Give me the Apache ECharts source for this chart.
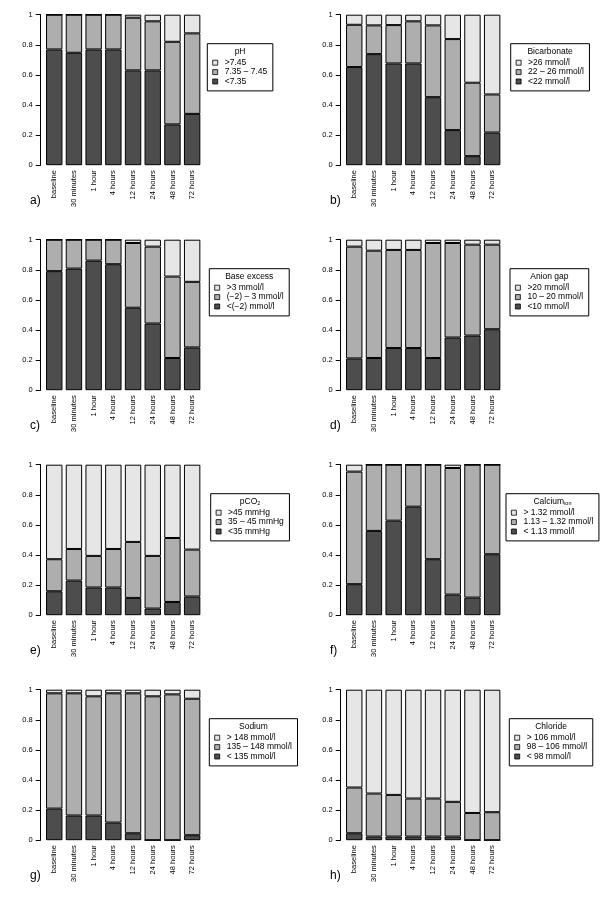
<!DOCTYPE html>
<html>
<head>
<meta charset="utf-8">
<script src="https://cdn.jsdelivr.net/npm/echarts@6/dist/echarts.min.js"></script>
<style>
html,body{margin:0;padding:0;background:#fff;}
#chart{width:600px;height:900px;}
</style>
</head>
<body>
<div id="chart"></div>
<script>
// ---- data ----
const categories = ['baseline','30 minutes','1 hour','4 hours','12 hours','24 hours','48 hours','72 hours'];
const yTicks = [0, 0.2, 0.4, 0.6, 0.8, 1];
const panelLabels = ['a)','b)','c)','d)','e)','f)','g)','h)'];

const pHLow  = [0.769,0.747,0.769,0.769,0.630,0.630,0.271,0.341];
const pHMid  = [0.231,0.253,0.231,0.231,0.350,0.326,0.549,0.535];
const pHHigh = [0,0,0,0,0.020,0.044,0.180,0.124];

const bicLow  = [0.652,0.738,0.676,0.676,0.452,0.233,0.060,0.217];
const bicMid  = [0.281,0.191,0.255,0.280,0.477,0.605,0.488,0.253];
const bicHigh = [0.067,0.071,0.069,0.044,0.071,0.162,0.452,0.530];

const beLow  = [0.791,0.808,0.861,0.837,0.548,0.443,0.214,0.284];
const beMid  = [0.209,0.192,0.139,0.163,0.430,0.511,0.541,0.436];
const beHigh = [0,0,0,0,0.022,0.046,0.245,0.280];

const agLow  = [0.211,0.214,0.280,0.280,0.214,0.350,0.363,0.405];
const agMid  = [0.743,0.713,0.652,0.652,0.764,0.628,0.604,0.562];
const agHigh = [0.046,0.073,0.068,0.068,0.022,0.022,0.033,0.033];

const co2Low  = [0.159,0.230,0.184,0.184,0.115,0.044,0.088,0.124];
const co2Mid  = [0.213,0.210,0.210,0.256,0.372,0.350,0.425,0.312];
const co2High = [0.628,0.560,0.606,0.560,0.513,0.606,0.487,0.564];

const caLow  = [0.206,0.560,0.628,0.721,0.372,0.137,0.117,0.405];
const caMid  = [0.748,0.440,0.372,0.279,0.628,0.841,0.883,0.595];
const caHigh = [0.046,0,0,0,0,0.022,0,0];

const naLow  = [0.210,0.164,0.164,0.117,0.046,0,0,0.033];
const naMid  = [0.766,0.812,0.792,0.859,0.930,0.956,0.969,0.907];
const naHigh = [0.024,0.024,0.044,0.024,0.024,0.044,0.031,0.060];

const clLow  = [0.046,0.024,0.024,0.024,0.024,0.024,0,0];
const clMid  = [0.304,0.286,0.277,0.253,0.253,0.231,0.181,0.186];
const clHigh = [0.650,0.690,0.699,0.723,0.723,0.745,0.819,0.814];

const legendTitles = ['{n|pH}','{n|Bicarbonate}','{n|Base excess}','{n|Anion gap}','{n|pCO}{s|2}','{n|Calcium}{s|ion}','{n|Sodium}','{n|Chloride}'];
const legendNames = [
  ['>7.45','7.35 – 7.45','<7.35'],
  ['>26 mmol/l','22 – 26 mmol/l','<22 mmol/l'],
  ['>3 mmol/l','(−2) – 3 mmol/l','<(−2) mmol/l'],
  ['>20 mmol/l','10 – 20 mmol/l','<10 mmol/l'],
  ['>45 mmHg','35 – 45 mmHg','<35 mmHg'],
  ['> 1.32 mmol/l','1.13 – 1.32 mmol/l','< 1.13 mmol/l'],
  ['> 148 mmol/l','135 – 148 mmol/l','< 135 mmol/l'],
  ['> 106 mmol/l','98 – 106 mmol/l','< 98 mmol/l']
];
const panelData = [
  [pHLow, pHMid, pHHigh],
  [bicLow, bicMid, bicHigh],
  [beLow, beMid, beHigh],
  [agLow, agMid, agHigh],
  [co2Low, co2Mid, co2High],
  [caLow, caMid, caHigh],
  [naLow, naMid, naHigh],
  [clLow, clMid, clHigh]
];

// ---- styles / layout ----
const FONT = '"Liberation Sans", Arial, Helvetica, sans-serif';
const colors = { low: '#4D4D4D', mid: '#AEAEAE', high: '#E6E6E6' };
const LEG_FS = 8.5;
const boxLefts = [207.3, 210.7, 209.3, 210, 210.7, 206, 209.3, 209.3];

const measureCtx = document.createElement('canvas').getContext('2d');
function textW(s, fs) { measureCtx.font = fs + 'px ' + FONT; return measureCtx.measureText(s).width; }

const grids = [], xAxes = [], yAxes = [], series = [], legends = [], graphics = [];

panelData.forEach((pd, i) => {
  const col = i % 2, row = Math.floor(i / 2);
  const ox = col * 300, oy = row * 225 + 14.7;
  grids.push({ left: ox + 44.4, top: oy, width: 157.6, height: 150.5, containLabel: false });
  xAxes.push({
    type: 'category', gridIndex: i, data: categories,
    axisLine: { show: false }, axisTick: { show: false },
    axisLabel: { rotate: 90, fontSize: 7.5, color: '#000', fontFamily: FONT, margin: 5, interval: 0 }
  });
  yAxes.push({
    type: 'value', gridIndex: i, min: yTicks[0], max: yTicks[yTicks.length - 1], interval: 0.2,
    offset: 3.7,
    axisLine: { show: true, lineStyle: { color: '#000', width: 1 } },
    axisTick: { show: true, length: 5, lineStyle: { color: '#000', width: 1 } },
    splitLine: { show: false },
    axisLabel: { fontSize: 7.5, color: '#000', fontFamily: FONT, margin: 8 }
  });
  const names = legendNames[i];
  const keys = ['low', 'mid', 'high'];
  const nameFor = [names[2], names[1], names[0]];
  pd.forEach((vals, k) => {
    series.push({
      type: 'bar', name: nameFor[k], xAxisIndex: i, yAxisIndex: i, stack: 'p' + i,
      data: vals, barCategoryGap: '16.7%',
      itemStyle: { color: colors[keys[k]], borderColor: '#000', borderWidth: 1 },
      emphasis: { disabled: true }, animation: false
    });
  });
  // legend box
  const maxW = Math.max(...names.map(n => textW(n, LEG_FS)));
  const boxL = ox + boxLefts[i], boxT = oy + 29, boxW = 18.6 + maxW + 4.4, boxH = 47.2;
  graphics.push({
    type: 'rect', shape: { x: boxL, y: boxT, width: boxW, height: boxH },
    style: { fill: '#fff', stroke: '#000', lineWidth: 1 }, z: 0
  });
  graphics.push({
    type: 'text', x: boxL + boxW / 2, y: boxT + 7.6, z: 1,
    style: {
      text: legendTitles[i], align: 'center', verticalAlign: 'middle', fill: '#000',
      rich: {
        n: { fontSize: LEG_FS, fontFamily: FONT, fill: '#000', lineHeight: 10 },
        s: { fontSize: 5.5, fontFamily: FONT, fill: '#000', lineHeight: 4, verticalAlign: 'bottom' }
      }
    }
  });
  const legColors = [colors.high, colors.mid, colors.low];
  legends.push({
    orient: 'vertical', left: boxL + 5, top: boxT + 14.3, padding: 0,
    itemWidth: 5, itemHeight: 5, itemGap: 0, icon: 'rect', selectedMode: false, z: 10,
    data: names.map((n, j) => ({
      name: n,
      itemStyle: { color: legColors[j], borderColor: '#000', borderWidth: 0.8 }
    })),
    textStyle: { fontSize: LEG_FS, fontFamily: FONT, color: '#000', lineHeight: 9.4, padding: [0, 0, 0, 2] }
  });
  // panel label
  graphics.push({
    type: 'text', x: ox + 30, y: oy + 186, z: 1,
    style: { text: panelLabels[i], fontSize: 12, fontFamily: FONT, fill: '#000', verticalAlign: 'middle' }
  });
});

const chart = echarts.init(document.getElementById('chart'), null, { renderer: 'canvas' });
chart.setOption({
  animation: false,
  backgroundColor: '#fff',
  grid: grids, xAxis: xAxes, yAxis: yAxes, series: series, legend: legends,
  graphic: { elements: graphics }
});
</script>
</body>
</html>
